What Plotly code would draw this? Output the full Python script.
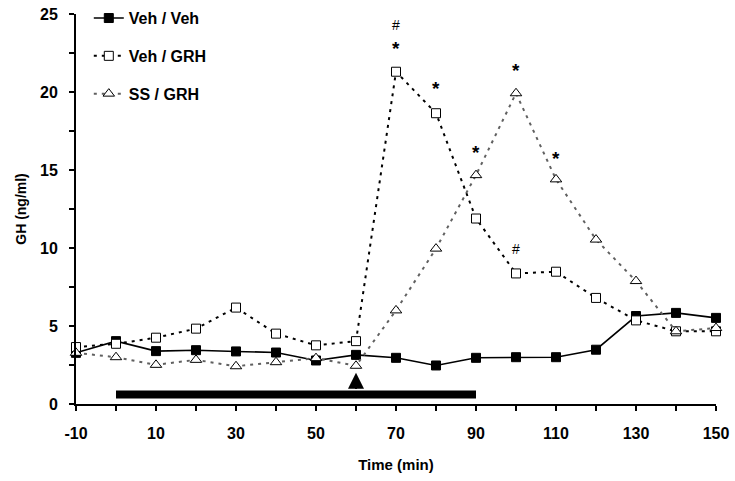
import plotly.graph_objects as go

time = [-10, 0, 10, 20, 30, 40, 50, 60, 70, 80, 90, 100, 110, 120, 130, 140, 150]
veh_veh = [3.28, 4.03, 3.39, 3.45, 3.37, 3.30, 2.79, 3.15, 2.96, 2.47, 2.96, 3.0, 3.0, 3.48, 5.64, 5.84, 5.52]
veh_grh = [3.65, 3.86, 4.25, 4.83, 6.18, 4.51, 3.76, 4.03, 21.3, 18.64, 11.89, 8.37, 8.48, 6.8, 5.36, 4.66, 4.66]
ss_grh = [3.28, 3.0, 2.51, 2.83, 2.42, 2.68, 2.94, 2.45, 6.0, 9.96, 14.67, 19.92, 14.4, 10.54, 7.88, 4.66, 4.87]

# significance marks: (time, value, text)
sig_x = [70, 70, 80, 90, 100, 110, 100]
sig_y = [24.3, 22.8, 20.2, 16.1, 21.4, 15.75, 9.96]
sig_t = ["#", "*", "*", "*", "*", "*", "#"]

treat_start, treat_end = 0, 90
bar_low, bar_high = 0.35, 0.86
arrow_time, arrow_tip = 60, 2.0

x_tickvals = list(range(-10, 151, 10))
x_ticktext = [str(v) if (v + 10) % 20 == 0 else "" for v in x_tickvals]
y_tickvals = [0, 2.5, 5, 7.5, 10, 12.5, 15, 17.5, 20, 22.5, 25]
y_ticktext = [str(int(v)) if v % 5 == 0 else "" for v in y_tickvals]

FONT = "Liberation Sans, Arial, sans-serif"
BOLD = dict(family=FONT, size=16, color="black", weight="bold")

fig = go.Figure()
fig.add_trace(go.Scatter(
    x=time, y=veh_veh, name="Veh / Veh", mode="lines+markers",
    line=dict(color="black", width=1.6),
    marker=dict(symbol="square", size=9, color="black", line=dict(color="black", width=1)),
    cliponaxis=False, legendgroup="a"))
fig.add_trace(go.Scatter(
    x=time, y=veh_grh, name="Veh / GRH", mode="lines+markers",
    line=dict(color="black", width=2, dash="3px,5px"),
    marker=dict(symbol="square", size=9, color="white", line=dict(color="black", width=1)),
    cliponaxis=False, legendgroup="b"))
fig.add_trace(go.Scatter(
    x=time, y=ss_grh, name="SS / GRH", mode="lines+markers",
    line=dict(color="#606060", width=2, dash="3px,5px"),
    marker=dict(symbol="triangle-up", size=10, color="white", line=dict(color="black", width=1)),
    cliponaxis=False, legendgroup="c"))

# treatment bar
fig.add_shape(type="rect", xref="x", yref="y", x0=treat_start, x1=treat_end,
              y0=bar_low, y1=bar_high, fillcolor="black", line=dict(width=0))
# arrow
fig.add_annotation(x=arrow_time, y=arrow_tip, ax=arrow_time, ay=bar_high,
                   xref="x", yref="y", axref="x", ayref="y", showarrow=True,
                   arrowhead=2, arrowsize=1.6, arrowwidth=2, arrowcolor="black", text="")

for xv, yv, t in zip(sig_x, sig_y, sig_t):
    if t == "*":
        f = dict(family=FONT, size=19, color="black", weight="bold")
    else:
        f = dict(family=FONT, size=14, color="black")
    fig.add_annotation(x=xv, y=yv, text=t, showarrow=False, xref="x", yref="y", font=f)

fig.update_layout(
    width=735, height=481,
    margin=dict(l=76, r=19, t=14, b=77, autoexpand=False),
    plot_bgcolor="white", paper_bgcolor="white",
    font=dict(family=FONT, color="black"),
    showlegend=True,
    legend=dict(x=0.02, y=1.033, xanchor="left", yanchor="top",
                font=BOLD,
                bgcolor="rgba(0,0,0,0)", tracegroupgap=14, itemwidth=30),
    xaxis=dict(range=[-10, 150], tickvals=x_tickvals, ticktext=x_ticktext,
               showgrid=False, zeroline=False, showline=True, linecolor="black", linewidth=2,
               ticks="outside", ticklen=5, tickwidth=2, tickcolor="black",
               tickfont=BOLD, ticklabelstandoff=9,
               title=dict(text="Time (min)", font=dict(family=FONT, size=15, weight="bold"), standoff=18)),
    yaxis=dict(range=[0, 25], tickvals=y_tickvals, ticktext=y_ticktext,
               showgrid=False, zeroline=False, showline=True, linecolor="black", linewidth=2,
               ticks="outside", ticklen=5, tickwidth=2, tickcolor="black",
               tickfont=BOLD, ticklabelstandoff=8,
               title=dict(text="GH (ng/ml)", font=dict(family=FONT, size=14, weight="bold"), standoff=10)),
)

fig.write_html("out.html")
